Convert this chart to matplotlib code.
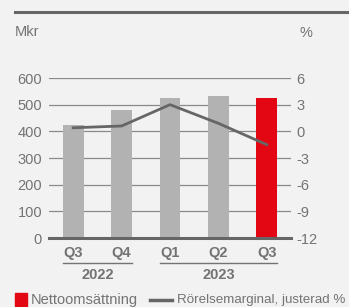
import matplotlib.pyplot as plt
import numpy as np
from matplotlib.lines import Line2D

plt.rcParams["font.family"] = ["Liberation Sans", "DejaVu Sans"]

quarters = ["Q3", "Q4", "Q1", "Q2", "Q3"]
years = ["2022", "2023"]
year_spans = [(0, 1), (2, 4)]
net_sales = [424, 480, 525, 532, 525]
margin = [0.4, 0.6, 3.0, 0.9, -1.5]
left_ticks = [0, 100, 200, 300, 400, 500, 600]
right_ticks = [-12, -9, -6, -3, 0, 3, 6]

bg = "#f2f2f2"
text_c = "#737373"
bar_c = "#b2b2b2"
red = "#e30613"
line_c = "#666666"

fig = plt.figure(figsize=(3.49, 3.07), dpi=100, facecolor=bg)
W, H = 349, 307
ax = fig.add_axes([49 / W, 1 - 238 / H, 242 / W, 160 / H])
ax.set_facecolor(bg)
x = np.arange(len(quarters))
colors = [bar_c] * 4 + [red]

ax.set_xlim(-0.5, 4.5)
ax.set_ylim(0, 600)
for t in left_ticks[1:]:
    ax.axhline(t, color="#8a8a8a", lw=0.9, zorder=1)
ax.bar(x, net_sales, width=0.43, color=colors, zorder=2)
ax.axhline(0, color=line_c, lw=2.2, zorder=3, clip_on=False)

ax.set_yticks(left_ticks)
ax.set_yticklabels([str(t) for t in left_ticks], color=text_c, fontsize=10.5)
ax.tick_params(axis="y", length=0, pad=5)
ax.set_xticks([])
for s in ax.spines.values():
    s.set_visible(False)

ax2 = ax.twinx()
ax2.set_ylim(-12, 6)
ax2.plot(x, margin, color=line_c, lw=2, zorder=4)
ax2.set_yticks(right_ticks)
ax2.set_yticklabels([str(t) for t in right_ticks], color=text_c, fontsize=10.5)
ax2.tick_params(axis="y", length=0, pad=4)
for s in ax2.spines.values():
    s.set_visible(False)

# quarter and year labels
for i, q in enumerate(quarters):
    ax.text(i, -56, q, ha="center", va="center", fontsize=10.5,
            fontweight="bold", color=text_c, clip_on=False)
for (a, b), yr in zip(year_spans, years):
    ax.plot([a - 0.215, b + 0.215], [-94, -94], color=text_c, lw=1, clip_on=False)
    ax.text((a + b) / 2, -140, yr, ha="center", va="center", fontsize=10.5,
            fontweight="bold", color=text_c, clip_on=False)

# header
fig.add_artist(Line2D([15 / W, 1], [1 - 12 / H] * 2, color=line_c, lw=2.2))
fig.text(15 / W, 1 - 32 / H, "Mkr", fontsize=10.5, color=text_c, va="center")
fig.text(300 / W, 1 - 33 / H, "%", fontsize=10.5, color=text_c, va="center")

# legend
fig.patches.append(plt.Rectangle((15 / W, 1 - 306 / H), 12 / W, 13 / H,
                                 transform=fig.transFigure, color=red))
fig.text(31 / W, 1 - 300 / H, "Nettoomsättning", fontsize=10.5, color=text_c, va="center")
fig.add_artist(Line2D([150 / W, 172 / W], [1 - 300 / H] * 2, color=line_c, lw=2.5))
fig.text(177 / W, 1 - 300 / H, "Rörelsemarginal, justerad %", fontsize=9.6,
         color=text_c, va="center")

fig.savefig("out.png", dpi=100, facecolor=bg)
